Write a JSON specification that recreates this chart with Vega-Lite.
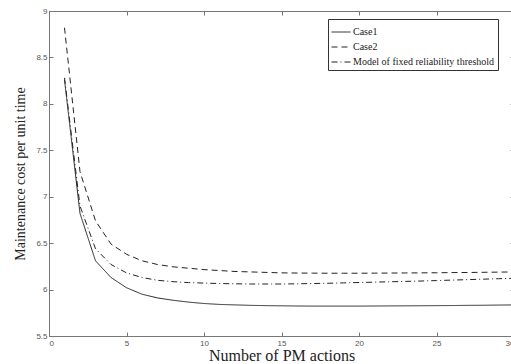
{
  "$schema": "https://vega.github.io/schema/vega-lite/v6.json",
  "autosize": "none",
  "width": 465,
  "height": 325,
  "padding": {"left": 49, "top": 11, "right": 0, "bottom": 28},
  "background": "white",
  "config": {
    "view": {"stroke": "#777", "strokeWidth": 1},
    "axis": {
      "domainColor": "#777",
      "tickColor": "#777",
      "grid": false,
      "labelFont": "Liberation Sans",
      "labelFontSize": 8,
      "labelColor": "#555",
      "titleFont": "Liberation Serif",
      "titleFontSize": 15,
      "titleFontWeight": "normal",
      "titleColor": "#222",
      "tickSize": -4
    }
  },
  "data": {
    "values": [
      {"series": "Case1", "n": 1, "cost": 8.26},
      {"series": "Case1", "n": 2, "cost": 6.82},
      {"series": "Case1", "n": 3, "cost": 6.31},
      {"series": "Case1", "n": 4, "cost": 6.13},
      {"series": "Case1", "n": 5, "cost": 6.02},
      {"series": "Case1", "n": 6, "cost": 5.95},
      {"series": "Case1", "n": 7, "cost": 5.91},
      {"series": "Case1", "n": 8, "cost": 5.885},
      {"series": "Case1", "n": 9, "cost": 5.865},
      {"series": "Case1", "n": 10, "cost": 5.85},
      {"series": "Case1", "n": 11, "cost": 5.84},
      {"series": "Case1", "n": 12, "cost": 5.835},
      {"series": "Case1", "n": 13, "cost": 5.83},
      {"series": "Case1", "n": 14, "cost": 5.827},
      {"series": "Case1", "n": 15, "cost": 5.825},
      {"series": "Case1", "n": 16, "cost": 5.823},
      {"series": "Case1", "n": 17, "cost": 5.822},
      {"series": "Case1", "n": 18, "cost": 5.822},
      {"series": "Case1", "n": 19, "cost": 5.822},
      {"series": "Case1", "n": 20, "cost": 5.822},
      {"series": "Case1", "n": 21, "cost": 5.823},
      {"series": "Case1", "n": 22, "cost": 5.824},
      {"series": "Case1", "n": 23, "cost": 5.825},
      {"series": "Case1", "n": 24, "cost": 5.826},
      {"series": "Case1", "n": 25, "cost": 5.827},
      {"series": "Case1", "n": 26, "cost": 5.828},
      {"series": "Case1", "n": 27, "cost": 5.83},
      {"series": "Case1", "n": 28, "cost": 5.831},
      {"series": "Case1", "n": 29, "cost": 5.833},
      {"series": "Case1", "n": 30, "cost": 5.835},
      {"series": "Case2", "n": 1, "cost": 8.82},
      {"series": "Case2", "n": 2, "cost": 7.27},
      {"series": "Case2", "n": 3, "cost": 6.74},
      {"series": "Case2", "n": 4, "cost": 6.49},
      {"series": "Case2", "n": 5, "cost": 6.38},
      {"series": "Case2", "n": 6, "cost": 6.31},
      {"series": "Case2", "n": 7, "cost": 6.27},
      {"series": "Case2", "n": 8, "cost": 6.245},
      {"series": "Case2", "n": 9, "cost": 6.23},
      {"series": "Case2", "n": 10, "cost": 6.215},
      {"series": "Case2", "n": 11, "cost": 6.205},
      {"series": "Case2", "n": 12, "cost": 6.195},
      {"series": "Case2", "n": 13, "cost": 6.19},
      {"series": "Case2", "n": 14, "cost": 6.185},
      {"series": "Case2", "n": 15, "cost": 6.18},
      {"series": "Case2", "n": 16, "cost": 6.178},
      {"series": "Case2", "n": 17, "cost": 6.177},
      {"series": "Case2", "n": 18, "cost": 6.176},
      {"series": "Case2", "n": 19, "cost": 6.176},
      {"series": "Case2", "n": 20, "cost": 6.176},
      {"series": "Case2", "n": 21, "cost": 6.177},
      {"series": "Case2", "n": 22, "cost": 6.178},
      {"series": "Case2", "n": 23, "cost": 6.179},
      {"series": "Case2", "n": 24, "cost": 6.18},
      {"series": "Case2", "n": 25, "cost": 6.181},
      {"series": "Case2", "n": 26, "cost": 6.183},
      {"series": "Case2", "n": 27, "cost": 6.184},
      {"series": "Case2", "n": 28, "cost": 6.186},
      {"series": "Case2", "n": 29, "cost": 6.188},
      {"series": "Case2", "n": 30, "cost": 6.19},
      {"series": "Model of fixed reliability threshold", "n": 1, "cost": 8.28},
      {"series": "Model of fixed reliability threshold", "n": 2, "cost": 6.9},
      {"series": "Model of fixed reliability threshold", "n": 3, "cost": 6.44},
      {"series": "Model of fixed reliability threshold", "n": 4, "cost": 6.27},
      {"series": "Model of fixed reliability threshold", "n": 5, "cost": 6.18},
      {"series": "Model of fixed reliability threshold", "n": 6, "cost": 6.13},
      {"series": "Model of fixed reliability threshold", "n": 7, "cost": 6.1},
      {"series": "Model of fixed reliability threshold", "n": 8, "cost": 6.085},
      {"series": "Model of fixed reliability threshold", "n": 9, "cost": 6.075},
      {"series": "Model of fixed reliability threshold", "n": 10, "cost": 6.07},
      {"series": "Model of fixed reliability threshold", "n": 11, "cost": 6.065},
      {"series": "Model of fixed reliability threshold", "n": 12, "cost": 6.062},
      {"series": "Model of fixed reliability threshold", "n": 13, "cost": 6.06},
      {"series": "Model of fixed reliability threshold", "n": 14, "cost": 6.06},
      {"series": "Model of fixed reliability threshold", "n": 15, "cost": 6.06},
      {"series": "Model of fixed reliability threshold", "n": 16, "cost": 6.062},
      {"series": "Model of fixed reliability threshold", "n": 17, "cost": 6.065},
      {"series": "Model of fixed reliability threshold", "n": 18, "cost": 6.068},
      {"series": "Model of fixed reliability threshold", "n": 19, "cost": 6.072},
      {"series": "Model of fixed reliability threshold", "n": 20, "cost": 6.076},
      {"series": "Model of fixed reliability threshold", "n": 21, "cost": 6.08},
      {"series": "Model of fixed reliability threshold", "n": 22, "cost": 6.084},
      {"series": "Model of fixed reliability threshold", "n": 23, "cost": 6.088},
      {"series": "Model of fixed reliability threshold", "n": 24, "cost": 6.092},
      {"series": "Model of fixed reliability threshold", "n": 25, "cost": 6.097},
      {"series": "Model of fixed reliability threshold", "n": 26, "cost": 6.102},
      {"series": "Model of fixed reliability threshold", "n": 27, "cost": 6.107},
      {"series": "Model of fixed reliability threshold", "n": 28, "cost": 6.112},
      {"series": "Model of fixed reliability threshold", "n": 29, "cost": 6.117},
      {"series": "Model of fixed reliability threshold", "n": 30, "cost": 6.122}
    ]
  },
  "resolve": {"axis": {"x": "independent", "y": "independent"}},
  "layer": [
    {
      "mark": {"type": "line", "color": "#222", "strokeWidth": 1},
      "encoding": {
        "x": {
          "field": "n", "type": "quantitative",
          "scale": {"domain": [0, 30], "nice": false, "zero": false},
          "axis": {"title": "Number of PM actions", "titleFontSize": 16, "values": [0, 5, 10, 15, 20, 25, 30], "labelPadding": 7, "titlePadding": 0}
        },
        "y": {
          "field": "cost", "type": "quantitative",
          "scale": {"domain": [5.5, 9], "nice": false, "zero": false},
          "axis": {"title": "Maintenance cost per unit time", "titleFontSize": 14, "format": "~g", "values": [5.5, 6, 6.5, 7, 7.5, 8, 8.5, 9], "labelPadding": 6, "titlePadding": 8}
        },
        "strokeDash": {
          "field": "series", "type": "nominal",
          "scale": {
            "domain": ["Case1", "Case2", "Model of fixed reliability threshold"],
            "range": [[1, 0], [6, 4], [6, 3, 1, 3]]
          },
          "legend": {
            "title": null,
            "orient": "none",
            "legendX": 279,
            "legendY": 8,
            "strokeColor": "#333",
            "fillColor": "white",
            "padding": 3,
            "labelFont": "Liberation Serif",
            "labelFontSize": 10,
            "labelColor": "#222",
            "symbolType": "stroke",
            "symbolSize": 360,
            "symbolStrokeColor": "#222",
            "symbolStrokeWidth": 1,
            "rowPadding": 0,
            "labelOffset": 2
          }
        }
      }
    },
    {
      "mark": {"type": "line", "opacity": 0},
      "encoding": {
        "x": {
          "field": "n", "type": "quantitative",
          "axis": {"orient": "top", "title": null, "labels": false, "values": [0, 5, 10, 15, 20, 25, 30]}
        },
        "y": {
          "field": "cost", "type": "quantitative",
          "axis": {"orient": "right", "title": null, "labels": false, "values": [5.5, 6, 6.5, 7, 7.5, 8, 8.5, 9]}
        },
        "detail": {"field": "series"}
      }
    }
  ]
}
